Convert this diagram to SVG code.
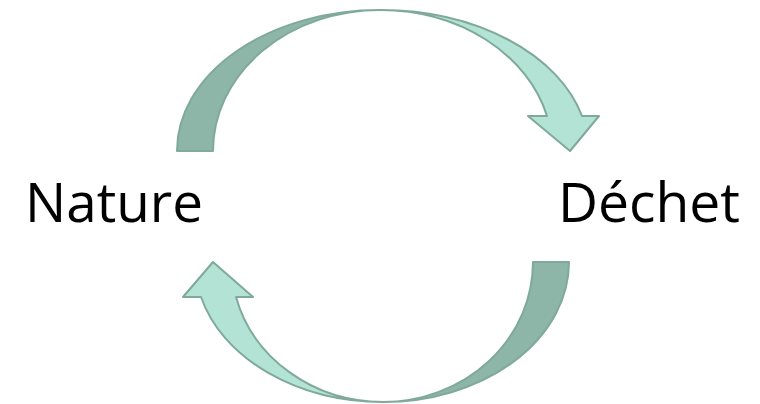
<svg xmlns="http://www.w3.org/2000/svg" width="760" height="404" viewBox="0 0 760 404">
<style>
.dark{fill:#8db5a8;stroke:#7fa99b;stroke-width:2;stroke-linejoin:round}
.light{fill:#b3e3d5;stroke:#7fa99b;stroke-width:2;stroke-linejoin:round}
.lbl{font-family:"Open Sans","Liberation Sans",sans-serif;font-size:55px;fill:#000}
</style>
<rect width="760" height="404" fill="#fff"/>
<g id="connectors">
<g id="arrow-top">
<path class="dark" d="M177,151 A203,141 0 0 1 380,10 A167,141 0 0 0 213,151 Z"/>
<path class="light" d="M380,10 A208,141 0 0 1 582,116 L599,116 L570,151 L528,116 L547,116 A172,141 0 0 0 380,10 Z"/>
</g>
<g id="arrow-bottom">
<path class="dark" d="M533,262 L569,262 A186,140 0 0 1 383,402 A150,140 0 0 0 533,262 Z"/>
<path class="light" d="M383,402 A188,140 0 0 1 201,297 L183,297 L213,262 L253,297 L236,297 A152,140 0 0 0 383,402 Z"/>
</g>
</g>
<g id="node-nature">
<text class="lbl" x="25" y="222" textLength="178" lengthAdjust="spacingAndGlyphs">Nature</text>
</g>
<g id="node-dechet">
<text class="lbl" x="558" y="222" textLength="182" lengthAdjust="spacingAndGlyphs">Déchet</text>
</g>
</svg>
